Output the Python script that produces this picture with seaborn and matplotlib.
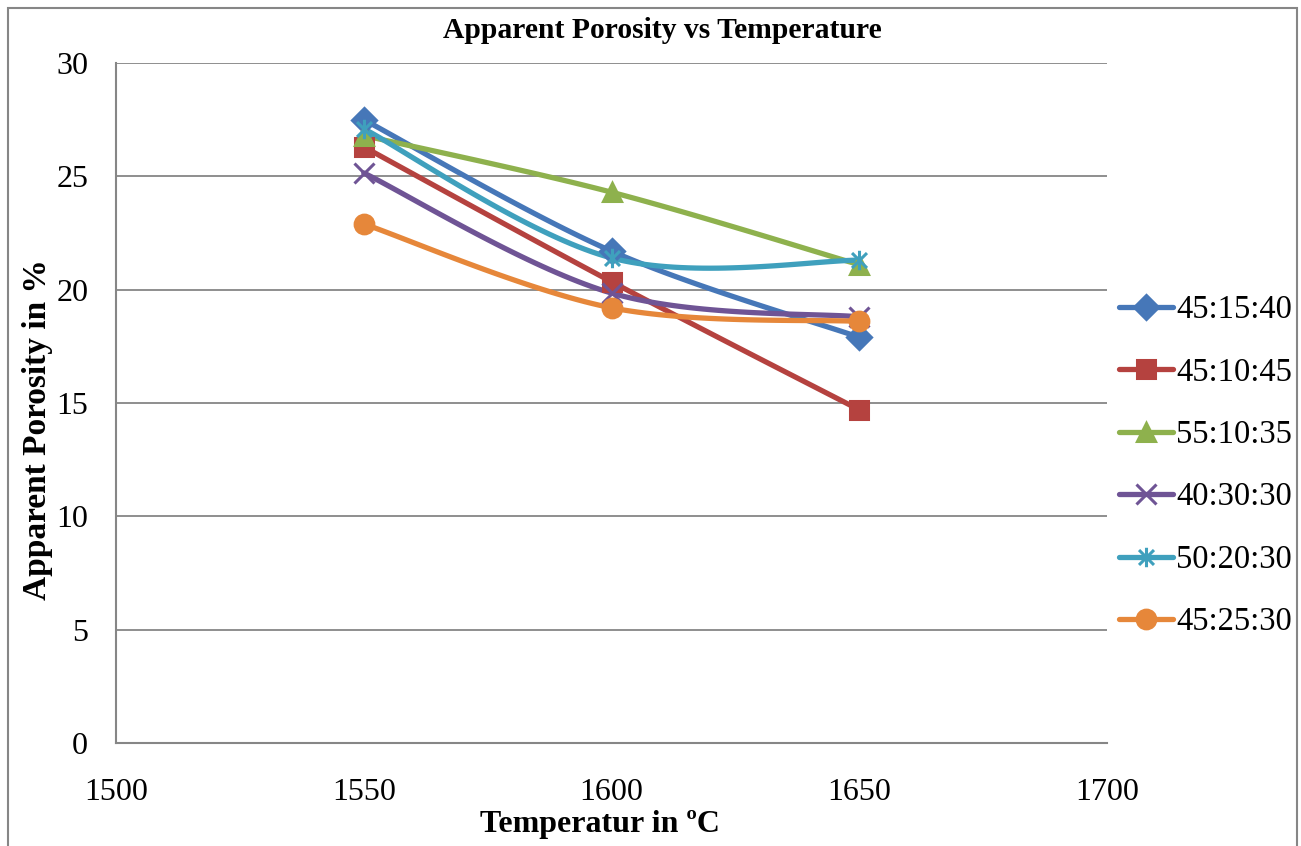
import numpy as np
import pandas as pd
import matplotlib
matplotlib.use("Agg")
import matplotlib.pyplot as plt
from matplotlib.lines import Line2D
from matplotlib.path import Path
from matplotlib.patches import Rectangle
import seaborn as sns

# ---------------- data ----------------
temperatures = [1550, 1600, 1650]
series_names = ["45:15:40", "45:10:45", "55:10:35", "40:30:30", "50:20:30", "45:25:30"]
s_45_15_40 = [27.5, 21.7, 17.9]
s_45_10_45 = [26.3, 20.35, 14.7]
s_55_10_35 = [26.8, 24.3, 21.1]
s_40_30_30 = [25.15, 19.85, 18.8]
s_50_20_30 = [27.1, 21.4, 21.3]
s_45_25_30 = [22.9, 19.2, 18.6]
series_values = [s_45_15_40, s_45_10_45, s_55_10_35, s_40_30_30, s_50_20_30, s_45_25_30]
x_ticks = [1500, 1550, 1600, 1650, 1700]
y_ticks = [0, 5, 10, 15, 20, 25, 30]

colors = ["#4677B8", "#B5423F", "#8EB14D", "#6F5495", "#3FA0BD", "#E6873A"]

# ---------------- style ----------------
sns.set_theme(style="white")
plt.rcParams["font.family"] = ["Liberation Serif", "DejaVu Serif"]
plt.rcParams["text.color"] = "black"
plt.rcParams["xtick.color"] = "black"
plt.rcParams["ytick.color"] = "black"

star = Path([(-1, -1), (1, 1), (-1, 1), (1, -1), (0, -1.3), (0, 1.3)],
            [Path.MOVETO, Path.LINETO, Path.MOVETO, Path.LINETO, Path.MOVETO, Path.LINETO])
markers = ["D", "s", "^", "x", star, "o"]
msizes = [12.5, 12.5, 13.5, 14, 14, 13.5]
LW = 3.8


def excel_smooth(xs, ys, n=40):
    """Excel-style smoothed line (cubic Bezier through the data points)."""
    P = np.column_stack([xs, ys]).astype(float)
    m = len(P)
    out = []
    for i in range(m - 1):
        p0 = P[i - 1] if i > 0 else P[i]
        p1 = P[i]
        p2 = P[i + 1]
        p3 = P[i + 2] if i + 2 < m else P[i + 1]
        c1 = p1 + (p2 - p0) / 6.0
        c2 = p2 - (p3 - p1) / 6.0
        t = np.linspace(0, 1, n)[:, None]
        seg = ((1 - t) ** 3) * p1 + 3 * ((1 - t) ** 2) * t * c1 + 3 * (1 - t) * t ** 2 * c2 + t ** 3 * p2
        out.append(seg if i == 0 else seg[1:])
    return np.vstack(out)


fig = plt.figure(figsize=(13.01, 8.46), dpi=100)
ax = fig.add_axes([116 / 1301, 1 - 743 / 846, (1107 - 116) / 1301, (743 - 63) / 846])

# outer chart border
fig.patches.append(Rectangle((8 / 1301, -0.01), (1297 - 8) / 1301, 1 - 8 / 846 + 0.01,
                             transform=fig.transFigure, fill=False,
                             edgecolor="#868686", linewidth=1.5, zorder=-1))

for name, vals, c, mk, ms in zip(series_names, series_values, colors, markers, msizes):
    curve = excel_smooth(temperatures, vals)
    cdf = pd.DataFrame({"x": curve[:, 0], "y": curve[:, 1]})
    sns.lineplot(data=cdf, x="x", y="y", ax=ax, color=c, linewidth=LW,
                 sort=False, estimator=None, zorder=3)
    pdf = pd.DataFrame({"x": temperatures, "y": vals})
    ax.plot(pdf["x"], pdf["y"], linestyle="none", marker=mk, markersize=ms,
            color=c, markeredgecolor=c, markeredgewidth=2.2, zorder=4)

ax.set_xlim(1500, 1700)
ax.set_ylim(0, 30)
ax.set_xticks(x_ticks)
ax.set_yticks(y_ticks)
ax.set_xticklabels([str(v) for v in x_ticks], fontsize=23)
ax.set_yticklabels([str(v) for v in y_ticks], fontsize=23)
ax.tick_params(axis="x", length=0, pad=25)
ax.tick_params(axis="y", length=0, pad=20)
ax.yaxis.grid(True, color="#868686", linewidth=1.3)
ax.xaxis.grid(False)
for side in ["top", "right"]:
    ax.spines[side].set_visible(False)
for side in ["left", "bottom"]:
    ax.spines[side].set_color("#868686")
    ax.spines[side].set_linewidth(1.5)
ax.set_xlabel("")
ax.set_ylabel("")

fig.text(662 / 1301, 1 - 31 / 846, "Apparent Porosity vs Temperature",
         ha="center", va="center", fontsize=21.3, fontweight="bold")
fig.text(600 / 1301, 1 - 824 / 846, "Temperatur in ºC",
         ha="center", va="center", fontsize=23, fontweight="bold")
fig.text(38 / 1301, 1 - 430 / 846, "Apparent Porosity in %",
         ha="center", va="center", rotation=90, fontsize=24, fontweight="bold")

handles = [Line2D([0], [0], color=c, linewidth=LW, marker=mk, markersize=ms,
                  markeredgecolor=c, markeredgewidth=2.2)
           for c, mk, ms in zip(colors, markers, msizes)]
fig.legend(handles, series_names, loc="center left",
           bbox_to_anchor=(1106 / 1301, 1 - 466 / 846), frameon=False,
           fontsize=23.5, handlelength=1.65, handletextpad=0.1, labelspacing=0.98,
           borderaxespad=0)

fig.savefig("out.png", dpi=100)
